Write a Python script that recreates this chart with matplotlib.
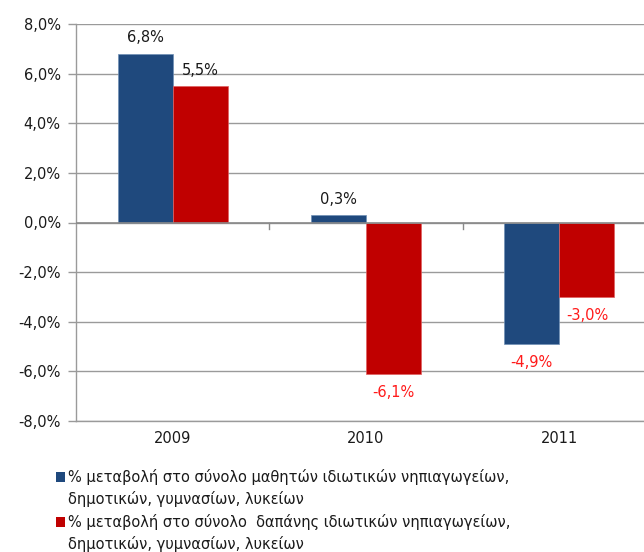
import matplotlib
matplotlib.use("Agg")
import matplotlib.pyplot as plt
from matplotlib.patches import Rectangle
import numpy as np

plt.rcParams['font.family'] = ['DejaVu Sans']

years = ["2009", "2010", "2011"]
students = [6.8, 0.3, -4.9]
spending = [5.5, -6.1, -3.0]
legend_labels = [
    ["% μεταβολή στο σύνολο μαθητών ιδιωτικών νηπιαγωγείων,", "δημοτικών, γυμνασίων, λυκείων"],
    ["% μεταβολή στο σύνολο  δαπάνης ιδιωτικών νηπιαγωγείων,", "δημοτικών, γυμνασίων, λυκείων"],
]
yticks = [-8, -6, -4, -2, 0, 2, 4, 6, 8]

blue = "#1F497D"
red = "#C00000"
grid_c = "#9A9A9A"
W, H = 644, 552

fig = plt.figure(figsize=(6.44, 5.52), dpi=100)
ax = fig.add_axes([76/W, 1-421/H, 580/W, (421-24)/H])

x = np.arange(len(years))
w = 0.285
b1 = ax.bar(x - w/2, students, w, color=blue, edgecolor="#6F8FB5", linewidth=0.5, zorder=3)
b2 = ax.bar(x + w/2, spending, w, color=red, edgecolor="#E06060", linewidth=0.5, zorder=3)

def fmt(v):
    return f"{v:.1f}%".replace(".", ",")

for bars, vals in ((b1, students), (b2, spending)):
    for rect, v in zip(bars, vals):
        cx = rect.get_x() + rect.get_width()/2
        if v >= 0:
            ax.annotate(fmt(v), (cx, v), xytext=(0, 6), textcoords="offset points",
                        ha="center", va="bottom", fontsize=10.5, color="#1a1a1a")
        else:
            ax.annotate(fmt(v), (cx, v), xytext=(0, -8), textcoords="offset points",
                        ha="center", va="top", fontsize=10.5, color="#FF1A1A")

ax.set_ylim(-8, 8)
ax.set_xlim(-0.5, 2.5)
ax.set_yticks(yticks)
ax.set_yticklabels([fmt(t) for t in yticks], fontsize=10.5, color="#1a1a1a")
ax.yaxis.grid(True, color=grid_c, linewidth=1, zorder=0)
ax.set_axisbelow(True)
ax.set_xticks(x)
ax.set_xticklabels(years, fontsize=10.5, color="#1a1a1a")
ax.tick_params(axis="x", length=0, pad=7)
ax.tick_params(axis="y", length=6, color=grid_c, width=1, pad=5)
for s in ("top", "right"):
    ax.spines[s].set_visible(False)
ax.spines["bottom"].set_color(grid_c)
ax.spines["bottom"].set_linewidth(1)
ax.spines["left"].set_color(grid_c)
ax.spines["left"].set_linewidth(1)
ax.axhline(0, color="#8A8A8A", linewidth=1.2, zorder=4)
for b in [0.5, 1.5]:
    ax.plot([b, b], [0, -0.25], color="#8A8A8A", linewidth=1, zorder=4, clip_on=False)

# legend drawn manually so the marker lines up with the first text line
line_y = [[477, 499], [522, 544]]
for color, lines, ys in zip([blue, red], legend_labels, line_y):
    fig.patches.append(Rectangle((56/W, 1-(ys[0]+5)/H), 9/W, 10/H,
                                 transform=fig.transFigure, facecolor=color, edgecolor="none"))
    for txt, yy in zip(lines, ys):
        fig.text(68/W, 1-yy/H, txt, ha="left", va="center", fontsize=10.5, color="#1a1a1a")

fig.savefig("out.png", dpi=100)
